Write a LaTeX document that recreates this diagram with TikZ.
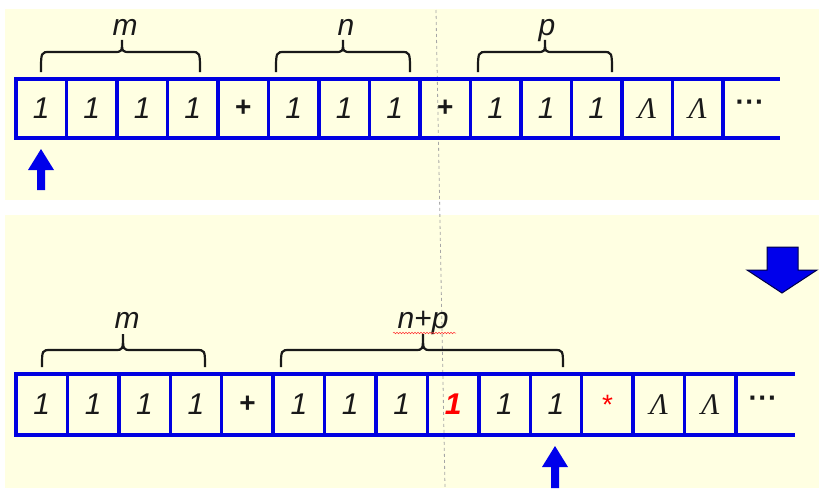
\documentclass[tikz,border=0pt]{standalone}
\usepackage{fontspec}
\setmainfont{Liberation Sans}
\newfontfamily\serifit{Liberation Serif}
\usetikzlibrary{decorations.pathmorphing}
\definecolor{paper}{RGB}{255,255,226}
\definecolor{tapeblue}{RGB}{0,0,225}
\definecolor{arrowblue}{RGB}{0,0,235}
\definecolor{navy}{RGB}{0,0,70}
\definecolor{ink}{RGB}{25,25,25}
\newcommand\lamb{{\serifit\itshape\fontsize{30}{30}\selectfont Λ}}
\newcommand\plus{{\upshape\bfseries\fontsize{28}{28}\selectfont +}}
\newcommand\rone{{\color{red}\bfseries 1}}
\newcommand\rstar{{\upshape\color{red}\fontsize{28}{28}\selectfont *}}
\newcommand\mybrace[6]{\draw[bracestyle] (#1,#5) .. controls (#1,#4) and (#1,#4) .. ({#1+9},#4) -- ({#3-8},#4) .. controls (#3,#4) and (#3,#4) .. (#3,#6) .. controls (#3,#4) and (#3,#4) .. ({#3+8},#4) -- ({#2-9},#4) .. controls (#2,#4) and (#2,#4) .. (#2,#5);}
\newcommand\threedots{\textperiodcentered\kern0.5pt\textperiodcentered\kern0.5pt\textperiodcentered}
\tikzset{
  cellbox/.style={draw=tapeblue, line width=3.5pt, inner sep=0pt, outer sep=0pt,
    text=ink, font=\itshape\fontsize{30}{30}\selectfont},
  tapeline/.style={draw=tapeblue, line width=3.5pt},
  bracestyle/.style={draw=ink, line width=2.2pt},
  lbl/.style={text=ink, font=\itshape\fontsize{30}{30}\selectfont, inner sep=0pt},
  dotsnode/.style={text=ink, font=\bfseries\fontsize{28}{28}\selectfont, inner sep=0pt},
  ptr/.style={fill=arrowblue, draw=none},
}
\begin{document}
\begin{tikzpicture}[x=1pt,y=-1pt]
\useasboundingbox (0,0) rectangle (819,488);
\fill[white] (0,0) rectangle (819,488);
\fill[paper] (5,9) rectangle (819,200);
\fill[paper] (5,215) rectangle (819,488);
% guide line
\draw[gray!70, dashed, line width=0.8pt] (436,10) -- (445,488);
% top tape
\foreach \t [count=\i] in {1,1,1,1,\plus,1,1,1,\plus,1,1,1,\lamb,\lamb}{
  \node[cellbox, minimum width=50.5pt, minimum height=59pt] (t\i) at ({16+50.5*(\i-0.5)},108.5) {\t};
}
\node[dotsnode] (tdots) at (750,106) {\threedots};
\coordinate (tne) at (780,79);
\coordinate (tse) at (780,138);
\draw[tapeline] (t14.north east) -- (tne);
\draw[tapeline] (t14.south east) -- (tse);
% top braces and labels
\mybrace{41}{200}{122}{52}{72}{40}
\mybrace{276}{410}{343}{52}{72}{40}
\mybrace{478}{612}{545}{52}{72}{40}
\node[lbl, anchor=base] (tm) at (125,35) {m};
\node[lbl, anchor=base] (tn) at (346,35) {n};
\node[lbl, anchor=base] (tp) at (547,35) {p};
% top head pointer
\fill[ptr] (41,149) -- (54,170) -- (45,170) -- (45,190) -- (37,190) -- (37,170) -- (28,170) -- cycle;
% big down arrow
\filldraw[fill=arrowblue, draw=navy, line width=1pt] (767,247) -- (798,247) -- (798,270) -- (817,270) -- (782,293) -- (747,270) -- (767,270) -- cycle;
% bottom tape
\foreach \t [count=\i] in {1,1,1,1,\plus,1,1,1,\rone,1,1,\rstar,\lamb,\lamb}{
  \node[cellbox, minimum width=51.43pt, minimum height=61pt] (b\i) at ({16+51.43*(\i-0.5)},404.5) {\t};
}
\node[dotsnode] (bdots) at (763,402) {\threedots};
\coordinate (bne) at (795,374);
\coordinate (bse) at (795,435);
\draw[tapeline] (b14.north east) -- (bne);
\draw[tapeline] (b14.south east) -- (bse);
% bottom braces and labels
\mybrace{42}{205}{123}{350}{367}{334}
\mybrace{281}{563}{423}{350}{367}{334}
\node[lbl, anchor=base] (bm) at (127,328) {m};
\node[lbl, anchor=base] (bnp) at (423,328) {n+p};
\draw[red!80, line width=0.5pt, decorate, decoration={snake, amplitude=0.8pt, segment length=3pt}] (393,333) -- (456,333);
% bottom head pointer
\fill[ptr] (555,446) -- (568,467) -- (559,467) -- (559,488) -- (551,488) -- (551,467) -- (542,467) -- cycle;
\end{tikzpicture}
\end{document}
